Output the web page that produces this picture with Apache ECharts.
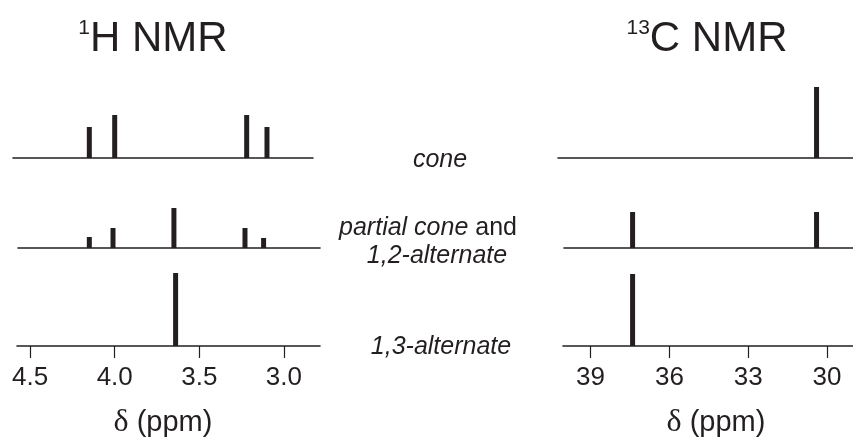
<!DOCTYPE html>
<html>
<head>
<meta charset="utf-8">
<script src="https://cdn.jsdelivr.net/npm/echarts@6/dist/echarts.min.js"></script>
<style>
html,body{margin:0;padding:0;background:#fff;}
#chart{width:853px;height:444px;}
</style>
</head>
<body>
<div id="chart"></div>
<script>
// ---- data (chemical shift in ppm, relative intensity) ----
const hConeShift = [4.15, 4.00, 3.22, 3.10];
const hConeInt = [31, 43, 43, 31];
const hPartialShift = [4.15, 4.01, 3.65, 3.23, 3.12];
const hPartialInt = [11, 20, 40, 20, 10];
const hAlt13Shift = [3.64];
const hAlt13Int = [73];

const cConeShift = [30.4];
const cConeInt = [71];
const cPartialShift = [37.4, 30.4];
const cPartialInt = [36, 36];
const cAlt13Shift = [37.4];
const cAlt13Int = [72];

const hTicks = [4.5, 4.0, 3.5, 3.0];
const hTickLabels = ['4.5', '4.0', '3.5', '3.0'];
const cTicks = [39, 36, 33, 30];
const cTickLabels = ['39', '36', '33', '30'];

const conformers = ['cone', 'partial cone', '1,2-alternate', '1,3-alternate'];

// ---- layout ----
const INK = '#231f20';
const H_SCALE = {x0: 157, p0: 3.75, k: 169.2};
const C_SCALE = {x0: 708.8, p0: 34.5, k: 26.28};
function ppmAt(s, x) { return s.p0 + (s.x0 - x) / s.k; }
const GH = 80;

const panels = [
  {s: H_SCALE, l: 13, r: 313, base: 158, x: hConeShift, y: hConeInt, ticks: null},
  {s: H_SCALE, l: 18, r: 320, base: 248, x: hPartialShift, y: hPartialInt, ticks: null},
  {s: H_SCALE, l: 17, r: 320, base: 346, x: hAlt13Shift, y: hAlt13Int, ticks: hTicks, labels: hTickLabels},
  {s: C_SCALE, l: 558, r: 853, base: 158, x: cConeShift, y: cConeInt, ticks: null},
  {s: C_SCALE, l: 564, r: 853, base: 248, x: cPartialShift, y: cPartialInt, ticks: null},
  {s: C_SCALE, l: 563, r: 853, base: 346, x: cAlt13Shift, y: cAlt13Int, ticks: cTicks, labels: cTickLabels}
];

const grid = [], xAxis = [], yAxis = [], series = [];
panels.forEach((p, i) => {
  grid.push({left: p.l, top: p.base - GH, width: p.r - p.l, height: GH, containLabel: false});
  const ax = {
    type: 'value', gridIndex: i, inverse: true,
    min: ppmAt(p.s, p.r), max: ppmAt(p.s, p.l),
    axisLine: {show: true, onZero: false, lineStyle: {color: INK, width: 1.6}},
    splitLine: {show: false},
    axisTick: {show: false},
    axisLabel: {show: false}
  };
  if (p.ticks) {
    ax.axisTick = {show: true, inside: false, length: 12, customValues: p.ticks, lineStyle: {color: INK, width: 1.2}};
    ax.axisLabel = {
      show: true, customValues: p.ticks, margin: 19,
      fontFamily: 'Liberation Sans, Arial, sans-serif', fontSize: 26, color: INK,
      formatter: v => p.labels[p.ticks.indexOf(v)] ?? String(v)
    };
  }
  xAxis.push(ax);
  yAxis.push({type: 'value', gridIndex: i, min: 0, max: GH, show: false});
  series.push({
    type: 'bar', xAxisIndex: i, yAxisIndex: i, barWidth: 5,
    itemStyle: {color: INK}, silent: true, animation: false,
    data: p.x.map((v, j) => [v, p.y[j]])
  });
});

const sans = 'Liberation Sans, Arial, Helvetica, sans-serif';
function txt(x, y, text, rich, size) {
  return {
    type: 'text', x: x, y: y,
    style: {
      text: text, x: 0, y: 0, align: 'center', verticalAlign: 'middle',
      fontFamily: sans, fontSize: size, fill: INK, rich: rich
    }
  };
}
const titleRich = {
  sup: {fontFamily: sans, fontSize: 21, fill: INK, verticalAlign: 'top', padding: [0, 0, 16, 0]},
  big: {fontFamily: sans, fontSize: 42, fill: INK}
};
const italicRich = {
  it: {fontFamily: sans, fontSize: 25, fontStyle: 'italic', fill: INK},
  n: {fontFamily: sans, fontSize: 25, fill: INK}
};
const deltaRich = {
  d: {fontFamily: 'Liberation Serif, DejaVu Serif, serif', fontSize: 32, fill: INK},
  n: {fontFamily: sans, fontSize: 29, fill: INK}
};

const graphic = [
  txt(153, 39, '{sup|1}{big|H NMR}', titleRich, 42),
  txt(707, 39, '{sup|13}{big|C NMR}', titleRich, 42),
  txt(440, 160, '{it|' + conformers[0] + '}', italicRich, 25),
  txt(428, 228, '{it|' + conformers[1] + '}{n| and}', italicRich, 25),
  txt(437, 256, '{it|' + conformers[2] + '}', italicRich, 25),
  txt(441, 347, '{it|' + conformers[3] + '}', italicRich, 25),
  txt(163, 423, '{d|δ}{n| (ppm)}', deltaRich, 29),
  txt(716, 423, '{d|δ}{n| (ppm)}', deltaRich, 29)
];

const chart = echarts.init(document.getElementById('chart'), null, {renderer: 'canvas'});
chart.setOption({animation: false, grid, xAxis, yAxis, series, graphic});
</script>
</body>
</html>
